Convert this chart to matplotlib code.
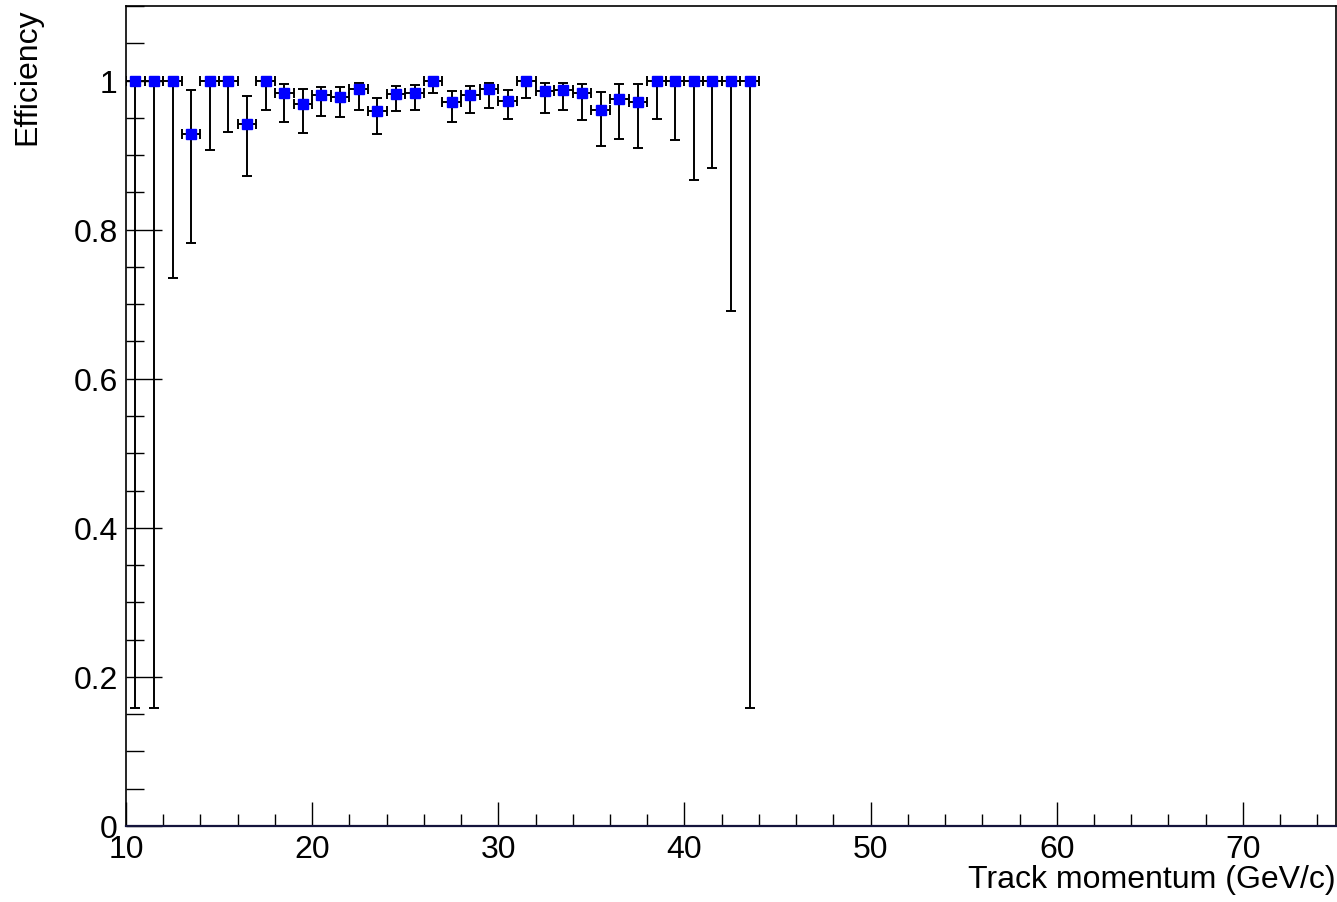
import matplotlib
matplotlib.use("Agg")
import matplotlib.pyplot as plt
import numpy as np
from matplotlib.ticker import MultipleLocator, FuncFormatter

plt.rcParams['font.family'] = ['Liberation Sans', 'DejaVu Sans']

# Data: bin centres (GeV/c), efficiency, and lower/upper interval bounds
momentum = [10.5, 11.5, 12.5, 13.5, 14.5, 15.5, 16.5, 17.5, 18.5, 19.5,
            20.5, 21.5, 22.5, 23.5, 24.5, 25.5, 26.5, 27.5, 28.5, 29.5,
            30.5, 31.5, 32.5, 33.5, 34.5, 35.5, 36.5, 37.5, 38.5, 39.5,
            40.5, 41.5, 42.5, 43.5]
efficiency = [1.0, 1.0, 1.0, 0.928, 1.0, 1.0, 0.942, 1.0, 0.983, 0.969,
              0.980, 0.978, 0.988, 0.959, 0.982, 0.983, 1.0, 0.971, 0.981, 0.988,
              0.973, 1.0, 0.986, 0.987, 0.983, 0.960, 0.975, 0.971, 1.0, 1.0,
              1.0, 1.0, 1.0, 1.0]
lower_bound = [0.158, 0.158, 0.735, 0.782, 0.907, 0.931, 0.872, 0.961, 0.944, 0.930,
               0.953, 0.951, 0.960, 0.928, 0.959, 0.961, 0.983, 0.945, 0.956, 0.963,
               0.948, 0.977, 0.957, 0.961, 0.947, 0.912, 0.922, 0.910, 0.948, 0.920,
               0.867, 0.883, 0.691, 0.158]
upper_bound = [1.0, 1.0, 1.0, 0.987, 1.0, 1.0, 0.979, 1.0, 0.996, 0.988,
               0.992, 0.991, 0.997, 0.977, 0.993, 0.994, 1.0, 0.986, 0.993, 0.997,
               0.987, 1.0, 0.997, 0.997, 0.996, 0.985, 0.995, 0.995, 1.0, 1.0,
               1.0, 1.0, 1.0, 1.0]
bin_half_width = 0.5

x = np.array(momentum)
y = np.array(efficiency)
yerr = np.vstack([y - np.array(lower_bound), np.array(upper_bound) - y])

fig = plt.figure(figsize=(13.37, 9.03), dpi=100)
ax = fig.add_axes([126/1337, 76/903, 1210/1337, 820/903])

ax.errorbar(x, y, yerr=yerr, xerr=bin_half_width, fmt='s', color='black',
            ecolor='black', elinewidth=1.4, capsize=3.5, capthick=1.4,
            markersize=6.5, markerfacecolor='#0000ff', markeredgecolor='#0000ff',
            zorder=3)

ax.set_xlim(10, 75)
ax.set_ylim(0, 1.1)

ax.xaxis.set_major_locator(MultipleLocator(10))
ax.xaxis.set_minor_locator(MultipleLocator(2))
ax.yaxis.set_major_locator(MultipleLocator(0.2))
ax.yaxis.set_minor_locator(MultipleLocator(0.05))

def yfmt(v, pos):
    s = f"{v:.1f}"
    if s.endswith('.0'):
        s = s[:-2]
    return s
ax.yaxis.set_major_formatter(FuncFormatter(yfmt))

ax.tick_params(axis='both', which='both', direction='in', top=False, right=False,
               labelsize=23, colors='black')
ax.tick_params(axis='x', which='major', length=17, width=1.0, pad=6)
ax.tick_params(axis='x', which='minor', length=8.5, width=1.0)
ax.tick_params(axis='y', which='major', length=26, width=1.0, pad=6)
ax.tick_params(axis='y', which='minor', length=13, width=1.0)

for side in ['left', 'top', 'right']:
    ax.spines[side].set_linewidth(1.2)
    ax.spines[side].set_color('black')
ax.spines['bottom'].set_linewidth(1.6)
ax.spines['bottom'].set_color('#14143c')

fig.text(1336/1337, 1 - 880/903, 'Track momentum (GeV/c)', ha='right', va='center',
         fontsize=23)
fig.text(27/1337, 1 - 8/903, 'Efficiency', ha='center', va='top', rotation=90,
         fontsize=23)

fig.savefig('out.png', dpi=100)
